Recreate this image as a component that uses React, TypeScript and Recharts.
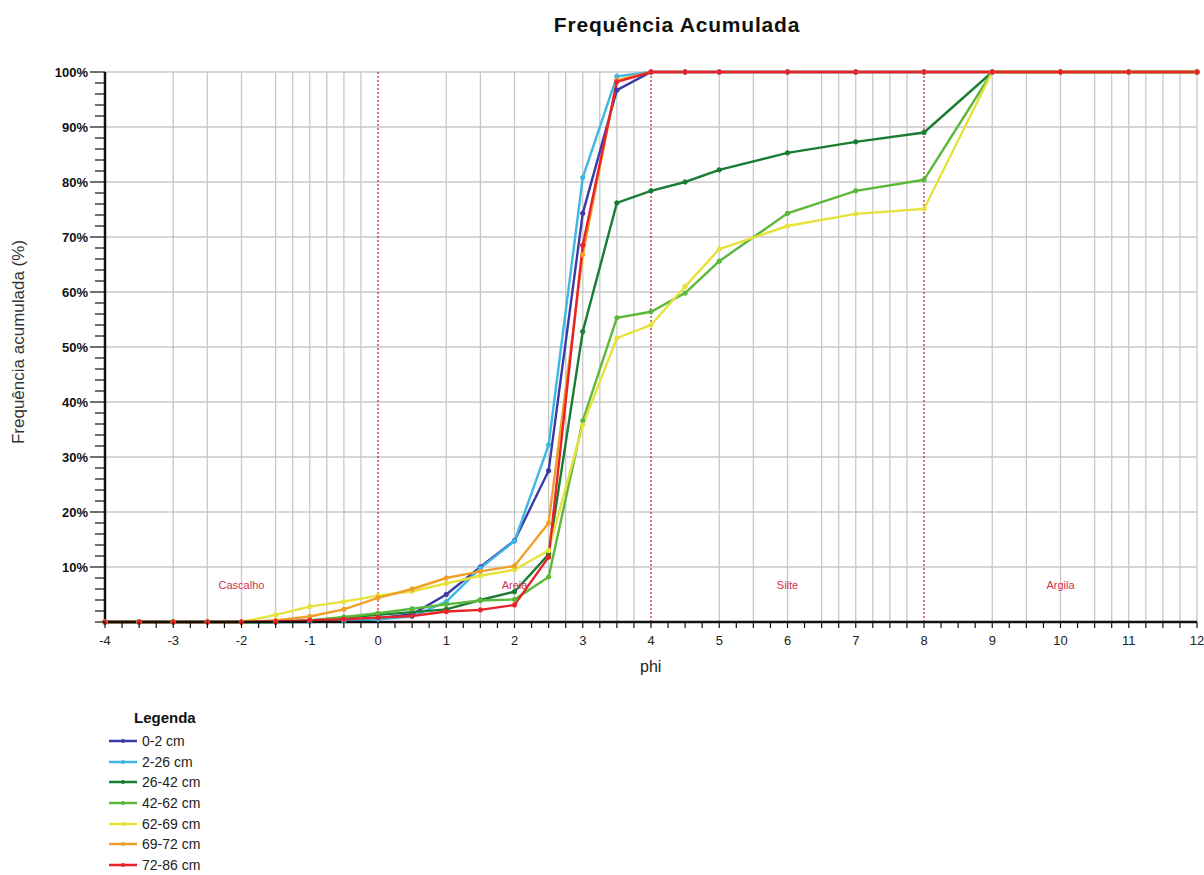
import React from 'react';
import {
  LineChart,
  Line,
  XAxis,
  YAxis,
  CartesianGrid,
  ReferenceLine,
  ReferenceDot,
} from 'recharts';

// phi classes along the x axis
const phi = [-4, -3.5, -3, -2.5, -2, -1.5, -1, -0.5, 0, 0.5, 1, 1.5, 2, 2.5, 3, 3.5, 4, 4.5, 5, 6, 7, 8, 9, 10, 11, 12];

// cumulative frequency (%) per depth interval
const s0_2 = [0, 0, 0, 0, 0, 0, 0.2, 0.4, 0.7, 1.4, 5.0, 10.0, 14.8, 27.5, 74.3, 96.7, 100, 100, 100, 100, 100, 100, 100, 100, 100, 100];
const s2_26 = [0, 0, 0, 0, 0, 0, 0, 0.2, 0.5, 1.0, 3.7, 9.8, 14.7, 32.2, 80.8, 99.2, 100, 100, 100, 100, 100, 100, 100, 100, 100, 100];
const s26_42 = [0, 0, 0, 0, 0, 0, 0.3, 0.8, 1.3, 1.8, 2.3, 4.0, 5.5, 12.3, 52.8, 76.2, 78.4, 80.0, 82.2, 85.3, 87.3, 89.0, 100, 100, 100, 100];
const s42_62 = [0, 0, 0, 0, 0, 0, 0.3, 0.9, 1.6, 2.4, 3.2, 3.9, 4.1, 8.2, 36.6, 55.3, 56.4, 59.8, 65.6, 74.3, 78.4, 80.4, 100, 100, 100, 100];
const s62_69 = [0, 0, 0, 0, 0, 1.3, 2.8, 3.7, 4.8, 5.6, 7.0, 8.4, 9.5, 13.0, 35.8, 51.6, 54.0, 61.0, 67.8, 72.0, 74.2, 75.1, 100, 100, 100, 100];
const s69_72 = [0, 0, 0, 0, 0, 0.3, 1.0, 2.3, 4.4, 6.0, 8.0, 9.2, 10.2, 18.0, 66.8, 98.5, 100, 100, 100, 100, 100, 100, 100, 100, 100, 100];
const s72_86 = [0, 0, 0, 0, 0, 0.1, 0.3, 0.5, 0.8, 1.1, 1.9, 2.2, 3.1, 11.8, 68.5, 98.2, 100, 100, 100, 100, 100, 100, 100, 100, 100, 100];

const seriesNames = ['0-2 cm', '2-26 cm', '26-42 cm', '42-62 cm', '62-69 cm', '69-72 cm', '72-86 cm'];
const seriesValues = [s0_2, s2_26, s26_42, s42_62, s62_69, s69_72, s72_86];
const seriesColors = ['#3b3aa8', '#3db8e6', '#1b7d34', '#5cb83a', '#e6e23a', '#f0a02a', '#e82228'];

// axis ticks and grid
const xMajorTicks = [-4, -3, -2, -1, 0, 1, 2, 3, 4, 5, 6, 7, 8, 9, 10, 11, 12];
const yMajorTicks = [10, 20, 30, 40, 50, 60, 70, 80, 90, 100];
const verticalGrid = [
  -3, -2.5, -2, -1.5, -1.25, -1, -0.75, -0.5, -0.25,
  1, 1.5, 2, 2.5, 2.75, 3, 3.25, 3.5, 3.75,
  5, 5.5, 6, 6.5, 6.75, 7, 7.25, 7.5, 7.75,
  9, 9.5, 10, 10.5, 10.75, 11, 11.25, 11.5, 11.75, 12,
];
const classLimits = [0, 4, 8];
const classNames = ['Cascalho', 'Areia', 'Silte', 'Argila'];
const classCenters = [-2, 2, 6, 10];

const xTicks: number[] = [];
for (let v = -4; v <= 12; v += 0.25) xTicks.push(v);
const yTicks: number[] = [];
for (let v = 0; v <= 100; v += 2) yTicks.push(v);

const data = phi.map((p, i) => {
  const row: Record<string, number> = { phi: p };
  seriesValues.forEach((vals, k) => {
    row['s' + k] = vals[i];
  });
  return row;
});

const FONT = 'Arial, "Liberation Sans", sans-serif';

function XTick(props: any) {
  const { x, y, payload } = props;
  const v = payload.value as number;
  const major = xMajorTicks.includes(v);
  return (
    <g>
      <line x1={x} x2={x} y1={y} y2={y + 6} stroke="#111" strokeWidth={1.2} />
      {major && (
        <text x={x} y={y + 23} textAnchor="middle" fontSize={13} fontFamily={FONT} fill="#222">
          {v}
        </text>
      )}
    </g>
  );
}

function YTick(props: any) {
  const { x, y, payload } = props;
  const v = payload.value as number;
  const major = yMajorTicks.includes(v);
  return (
    <g>
      <line x1={x - (major ? 15 : 10)} x2={x} y1={y} y2={y} stroke="#111" strokeWidth={1.2} />
      {major && (
        <text x={x - 17} y={y + 5} textAnchor="end" fontSize={13} fontWeight="bold" fontFamily={FONT} fill="#111">
          {v + '%'}
        </text>
      )}
    </g>
  );
}

function LegendBox() {
  return (
    <div style={{ position: 'absolute', left: 108, top: 709, fontFamily: FONT }}>
      <div style={{ fontWeight: 'bold', fontSize: 15, marginLeft: 26, marginBottom: 5, color: '#111' }}>Legenda</div>
      {seriesNames.map((name, i) => (
        <div key={name} style={{ display: 'flex', alignItems: 'center', height: 20.6 }}>
          <svg width={30} height={10}>
            <line x1={1} x2={29} y1={5} y2={5} stroke={seriesColors[i]} strokeWidth={2.5} />
            <circle cx={15} cy={5} r={2} fill={seriesColors[i]} />
          </svg>
          <span style={{ fontSize: 14, marginLeft: 4, color: '#222' }}>{name}</span>
        </div>
      ))}
    </div>
  );
}

export default function App() {
  return (
    <div style={{ position: 'absolute', left: 0, top: 0, width: 1204, height: 875, background: '#fff', fontFamily: FONT }}>
      <div
        style={{
          position: 'absolute',
          left: 0,
          width: 1354,
          top: 13,
          textAlign: 'center',
          fontWeight: 'bold',
          fontSize: 21,
          letterSpacing: 0.8,
          color: '#111',
        }}
      >
        Frequência Acumulada
      </div>
      <div
        style={{
          position: 'absolute',
          left: 19,
          top: 342,
          transform: 'translate(-50%, -50%) rotate(-90deg)',
          whiteSpace: 'nowrap',
          fontSize: 17,
          color: '#333',
        }}
      >
        Frequência acumulada (%)
      </div>
      <div style={{ position: 'absolute', left: 640, top: 658, fontSize: 16, color: '#222' }}>phi</div>

      <LineChart width={1204} height={700} data={data} margin={{ top: 72, right: 7, left: 35, bottom: 48 }}>
        <CartesianGrid stroke="#c8c8c8" strokeWidth={1.3} verticalValues={verticalGrid} horizontalValues={yMajorTicks} />
        <XAxis
          dataKey="phi"
          type="number"
          domain={[-4, 12]}
          ticks={xTicks}
          interval={0}
          height={30}
          tickSize={0}
          tickMargin={0}
          tickLine={false}
          axisLine={{ stroke: '#111', strokeWidth: 2.5 }}
          tick={<XTick />}
        />
        <YAxis
          type="number"
          domain={[0, 100]}
          ticks={yTicks}
          interval={0}
          width={70}
          tickSize={0}
          tickMargin={0}
          tickLine={false}
          axisLine={{ stroke: '#111', strokeWidth: 2.5 }}
          tick={<YTick />}
        />
        {classLimits.map((v) => (
          <ReferenceLine key={v} x={v} stroke="#b8203c" strokeDasharray="2 2" strokeWidth={1.2} />
        ))}
        {classNames.map((name, i) => (
          <ReferenceDot
            key={name}
            x={classCenters[i]}
            y={6.7}
            r={0}
            fill="none"
            stroke="none"
            label={{ value: name, position: 'center', fill: '#d43050', fontSize: 11, fontFamily: FONT }}
          />
        ))}
        {seriesNames.map((name, k) => (
          <Line
            key={name}
            type="linear"
            dataKey={'s' + k}
            name={name}
            stroke={seriesColors[k]}
            strokeWidth={2.4}
            dot={{ r: 2.2, fill: seriesColors[k], stroke: seriesColors[k], strokeWidth: 1 }}
            activeDot={false}
            isAnimationActive={false}
          />
        ))}
      </LineChart>
      <LegendBox />
    </div>
  );
}
